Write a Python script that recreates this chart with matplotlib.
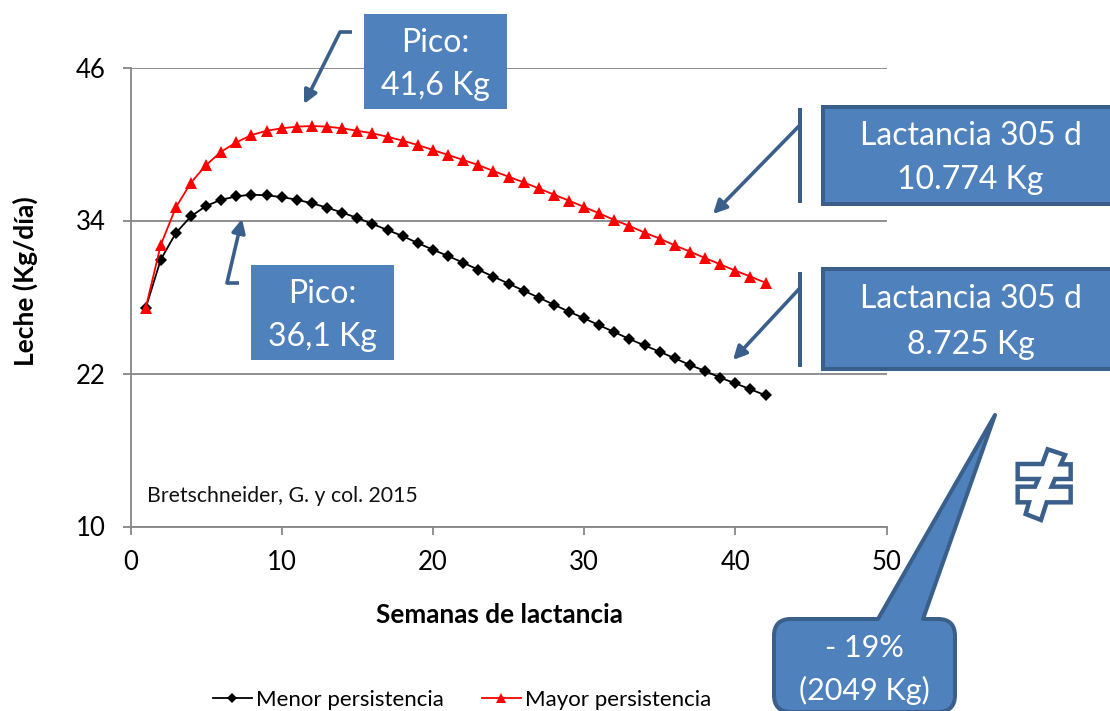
import matplotlib
matplotlib.use('Agg')
import matplotlib.pyplot as plt
from matplotlib.patches import Rectangle, Polygon, PathPatch, FancyArrowPatch
from matplotlib.path import Path

plt.rcParams['font.family'] = ['Lato', 'DejaVu Sans']

#
# data
#
semanas = list(range(1, 43))
menor = [27.11, 30.93, 33.02, 34.33, 35.14, 35.63, 35.89, 36.03, 35.97, 35.84,
         35.63, 35.35, 35.01, 34.62, 34.20, 33.73, 33.25, 32.78, 32.23, 31.71,
         31.22, 30.69, 30.14, 29.60, 29.05, 28.50, 27.95, 27.40, 26.85, 26.33,
         25.78, 25.25, 24.70, 24.20, 23.71, 23.19, 22.67, 22.20, 21.67, 21.23,
         20.76, 20.29]
mayor = [27.11, 32.08, 35.03, 36.97, 38.35, 39.40, 40.13, 40.70, 41.04, 41.23,
         41.36, 41.41, 41.36, 41.23, 41.04, 40.84, 40.57, 40.26, 39.92, 39.53,
         39.14, 38.75, 38.35, 37.88, 37.44, 36.99, 36.52, 36.03, 35.56, 35.06,
         34.56, 34.04, 33.57, 33.05, 32.58, 32.05, 31.56, 31.06, 30.56, 30.07,
         29.60, 29.12]
x_ticks = [0, 10, 20, 30, 40, 50]
y_ticks = [10, 22, 34, 46]

W, H = 1110, 711
GRAY = '#868686'
FILL = '#4F81BD'
EDGE = '#3A5F8B'

fig = plt.figure(figsize=(W / 100, H / 100), dpi=100)

#
# main chart
#
ax = fig.add_axes([130.5 / W, 1 - 526.5 / H, 756 / W, 459 / H])
ax.plot(semanas, menor, color='black', lw=1.3, marker='D', ms=6.3, mew=0,
        label='Menor persistencia', clip_on=False)
ax.plot(semanas, mayor, color='red', lw=1.3, marker='^', ms=9, mew=0,
        label='Mayor persistencia', clip_on=False)
ax.set_xlim(0, 50)
ax.set_ylim(10, 46)
ax.set_xticks(x_ticks)
ax.set_yticks(y_ticks)
ax.grid(axis='y', color=GRAY, lw=1.3)
ax.set_axisbelow(True)
for s in ['top', 'right']:
    ax.spines[s].set_visible(False)
for s in ['left', 'bottom']:
    ax.spines[s].set_color(GRAY)
    ax.spines[s].set_linewidth(1.3)
ax.tick_params(axis='x', colors=GRAY, labelcolor='black', labelsize=18.5, length=6, width=1.3, pad=11)
ax.tick_params(axis='y', colors=GRAY, labelcolor='black', labelsize=18.5, length=6, width=1.3, pad=12)
ax.set_xlabel('Semanas de lactancia', fontsize=18.8, fontweight='bold')
ax.xaxis.set_label_coords((499 - 130.5) / 756, -(615 - 526.5) / 459, transform=ax.transAxes)
ax.xaxis.label.set_va('center')
ax.set_ylabel('Leche (Kg/día)', fontsize=19, fontweight='bold')
ax.yaxis.set_label_coords(-(130.5 - 25) / 756, (526.5 - 281) / 459, transform=ax.transAxes)
ax.yaxis.label.set_va('center')

fig.legend(loc='center', bbox_to_anchor=(462 / W, 1 - 700 / H), ncol=2, frameon=False,
           fontsize=16, handlelength=1.75, columnspacing=1.7, handletextpad=0.2,
           borderpad=0, borderaxespad=0, markerscale=0.85)

#
# shapes on top, in pixel coordinates
#
ov = fig.add_axes([0, 0, 1, 1])
ov.set_xlim(0, W)
ov.set_ylim(H, 0)
ov.axis('off')
ov.patch.set_alpha(0)

ov.text(147, 496, 'Bretschneider, G. y col. 2015', fontsize=15.3, va='center', ha='left', color='#111111')


def box(x0, y0, x1, y1, lines, edge=False):
    ov.add_patch(Rectangle((x0, y0), x1 - x0, y1 - y0, facecolor=FILL,
                           edgecolor=EDGE if edge else 'none', lw=2.9 if edge else 0))
    cx = (x0 + min(x1, 1118)) / 2
    ov.text(cx, y0 + (y1 - y0) * 0.28 + 2, lines[0], color='white', fontsize=23, ha='center', va='center')
    ov.text(cx, y0 + (y1 - y0) * 0.74 + 1.5, lines[1], color='white', fontsize=23, ha='center', va='center')


def arrow(points):
    xs = [p[0] for p in points]
    ys = [p[1] for p in points]
    if len(points) > 2:
        ov.plot(xs[:-1], ys[:-1], color=EDGE, lw=2.6, solid_capstyle='butt', solid_joinstyle='miter')
    ov.add_patch(FancyArrowPatch(points[-2], points[-1], arrowstyle='-|>', mutation_scale=20,
                                 color=EDGE, lw=2.6, shrinkA=0, shrinkB=0))


box(364, 14, 507, 109, ['Pico:', '41,6 Kg'])
box(251, 265, 394, 360, ['Pico:', '36,1 Kg'])
box(823, 107, 1125, 204, ['Lactancia 305 d', '10.774 Kg'], edge=True)
box(823, 269, 1125, 369, ['Lactancia 305 d', '8.725 Kg'], edge=True)

arrow([(352, 32), (340, 32), (304, 104)])
arrow([(239, 283), (227, 283), (242, 219)])
arrow([(800, 125), (713, 214)])
arrow([(800, 288), (733, 360)])
ov.plot([800, 800], [108, 203], color=EDGE, lw=2.9, solid_capstyle='butt')
ov.plot([800, 800], [272, 367], color=EDGE, lw=2.9, solid_capstyle='butt')

# rounded callout with its tail
x0, y0, x1, y1, r = 774, 619, 955, 712, 17
verts = [(x0 + r, y0), (878, y0), (995, 415), (923, y0), (x1 - r, y0), (x1, y0), (x1, y0 + r),
         (x1, y1 - r), (x1, y1), (x1 - r, y1), (x0 + r, y1), (x0, y1), (x0, y1 - r),
         (x0, y0 + r), (x0, y0), (x0 + r, y0), (x0 + r, y0)]
codes = [Path.MOVETO, Path.LINETO, Path.LINETO, Path.LINETO, Path.LINETO, Path.CURVE3, Path.CURVE3,
         Path.LINETO, Path.CURVE3, Path.CURVE3, Path.LINETO, Path.CURVE3, Path.CURVE3,
         Path.LINETO, Path.CURVE3, Path.CURVE3, Path.CLOSEPOLY]
ov.add_patch(PathPatch(Path(verts, codes), facecolor=FILL, edgecolor=EDGE, lw=2.9, joinstyle='round'))
ov.text(864, 648, '- 19%', color='white', fontsize=22, ha='center', va='center')
ov.text(864, 690, '(2049 Kg)', color='white', fontsize=22, ha='center', va='center')

# hand drawn not-equal sign
neq = [(128, 28), (180, 45), (167, 73), (197, 73), (197, 117), (150, 117), (140, 140), (197, 140),
       (197, 187), (125, 187), (108, 240), (62, 222), (72, 187), (38, 187), (38, 140), (90, 140),
       (100, 117), (38, 117), (38, 72), (112, 72)]
ov.add_patch(Polygon([(1005 + a / 3, 440 + b / 3) for a, b in neq], closed=True,
                     facecolor='white', edgecolor=EDGE, lw=3.2))

fig.savefig('out.png', dpi=100)
